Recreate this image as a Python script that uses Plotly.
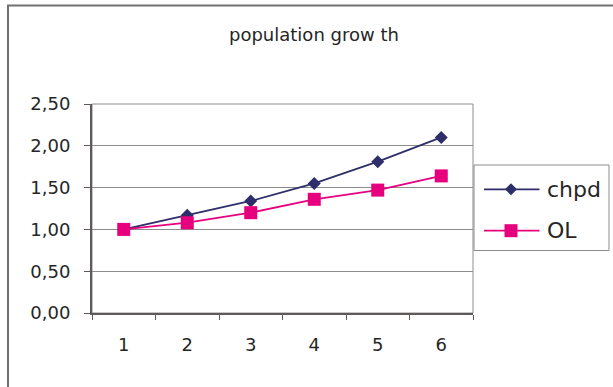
import plotly.graph_objects as go

# Chart data
categories = ["1", "2", "3", "4", "5", "6"]
chpd = [1.00, 1.17, 1.34, 1.55, 1.81, 2.10]
ol = [1.00, 1.08, 1.20, 1.36, 1.47, 1.64]
series_names = ["chpd", "OL"]
title_text = "population grow th"

NAVY = "#2e2e6a"
PINK = "#e6007e"
FONT = "DejaVu Sans"
TEXT = "#262626"
AXIS = "#5f5a5a"
GRID = "#8c8c8c"

# Page geometry (pixels)
W, H = 613, 387
L, R, T, B = 92, 140, 104, 74
PW, PH = W - L - R, H - T - B


def px(x):
    return (x - L) / PW


def py(y):
    return (H - B - y) / PH


fig = go.Figure()
fig.add_trace(go.Scatter(
    x=categories, y=chpd, name=series_names[0], mode="lines+markers",
    line=dict(color=NAVY, width=1.8),
    marker=dict(symbol="diamond", size=10, color=NAVY),
    showlegend=False,
))
fig.add_trace(go.Scatter(
    x=categories, y=ol, name=series_names[1], mode="lines+markers",
    line=dict(color=PINK, width=1.8),
    marker=dict(symbol="square", size=13, color=PINK),
    showlegend=False,
))

shapes = [
    # outer chart frame
    dict(type="rect", xref="paper", yref="paper",
         x0=px(8), x1=px(700), y0=py(500), y1=py(5.5),
         line=dict(color="#707070", width=2), layer="below"),
    # plot-area frame
    dict(type="rect", xref="paper", yref="paper", x0=0, x1=1, y0=0, y1=1,
         line=dict(color=GRID, width=1), layer="below"),
    # legend box
    dict(type="rect", xref="paper", yref="paper",
         x0=px(474), x1=px(609), y0=py(250.5), y1=py(165),
         line=dict(color=GRID, width=1), fillcolor="white", layer="above"),
]

legend_rows = [
    (series_names[0], NAVY, 189.3, "diamond"),
    (series_names[1], PINK, 230.7, "square"),
]
annotations = [
    dict(text=title_text, xref="paper", yref="paper", x=px(314), y=py(35),
         xanchor="center", yanchor="middle", showarrow=False,
         font=dict(family=FONT, size=18, color=TEXT)),
]
for name, color, yy, sym in legend_rows:
    shapes.append(dict(type="line", xref="paper", yref="paper",
                       x0=px(484), x1=px(539.5), y0=py(yy), y1=py(yy),
                       line=dict(color=color, width=1.8), layer="above"))
    if sym == "diamond":
        shapes.append(dict(type="path", xref="paper", yref="paper",
                           xsizemode="pixel", ysizemode="pixel",
                           xanchor=px(511), yanchor=py(yy),
                           path="M0,-6L6,0L0,6L-6,0Z",
                           fillcolor=color, line=dict(color=color, width=0),
                           layer="above"))
    else:
        shapes.append(dict(type="rect", xref="paper", yref="paper",
                           xsizemode="pixel", ysizemode="pixel",
                           xanchor=px(511), yanchor=py(yy),
                           x0=-6.5, x1=6.5, y0=-6.5, y1=6.5,
                           fillcolor=color, line=dict(color=color, width=0),
                           layer="above"))
    annotations.append(dict(text=name, xref="paper", yref="paper",
                            x=px(545), y=py(yy), xanchor="left", yanchor="middle",
                            showarrow=False,
                            font=dict(family=FONT, size=22, color=TEXT)))

fig.update_layout(
    width=W, height=H,
    margin=dict(l=L, r=R, t=T, b=B, pad=0),
    paper_bgcolor="white", plot_bgcolor="white",
    separators=",.",
    font=dict(family=FONT, size=18, color=TEXT),
    shapes=shapes, annotations=annotations,
    xaxis=dict(
        type="category", range=[-0.5, 5.5], tickson="boundaries",
        showgrid=False, zeroline=False,
        showline=True, linecolor=AXIS, linewidth=2,
        ticks="outside", ticklen=5, tickcolor=AXIS, tickwidth=1,
        ticklabelstandoff=14,
        tickfont=dict(family=FONT, size=18, color=TEXT),
        fixedrange=True,
    ),
    yaxis=dict(
        range=[0, 2.5], dtick=0.5, tick0=0, tickformat=".2f",
        showgrid=True, gridcolor=GRID, gridwidth=1, zeroline=False,
        showline=True, linecolor=AXIS, linewidth=2,
        ticks="outside", ticklen=6, tickcolor=AXIS, tickwidth=1,
        ticklabelstandoff=10,
        tickfont=dict(family=FONT, size=18, color=TEXT),
        fixedrange=True,
    ),
)

fig.write_html("out.html")
